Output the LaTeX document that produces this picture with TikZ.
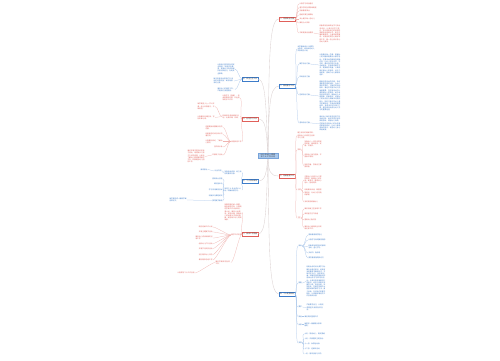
\documentclass[tikz,border=0pt]{standalone}
\usepackage{fontspec}
\newfontfamily\cjk{Noto Sans CJK SC}
\XeTeXlinebreaklocale "zh"
\XeTeXlinebreakskip=0pt plus 0.5pt
\usetikzlibrary{calc}

\definecolor{tred}{HTML}{E0605A}
\definecolor{tblue}{HTML}{3D7CC9}
\definecolor{lred}{HTML}{F0B4B0}
\definecolor{lblue}{HTML}{A8C6EA}
\definecolor{lgray}{HTML}{DCD2D2}
\definecolor{cfill}{HTML}{A9C8EC}

\tikzset{
  txt/.style={font={\cjk\fontsize{1.7}{2.2}\selectfont},inner sep=0.3pt},
  rtxt/.style={txt,text=tred},
  btxt/.style={txt,text=tblue},
  rpar/.style={rtxt,text width=17pt,align=left},
  bpar/.style={btxt,text width=17pt,align=left},
  topic/.style={font={\cjk\fontsize{1.8}{2.3}\selectfont},text=black!75,fill=white,line width=0.3pt,inner sep=0.6pt,minimum width=15pt,minimum height=3.4pt},
  spine/.style={draw=lgray,line width=0.35pt},
  redR/.style={draw=lred,line width=0.25pt,to path={.. controls +(3,0) and +(-3,0) .. (\tikztotarget)}},
  blueR/.style={draw=lblue,line width=0.25pt,to path={.. controls +(3,0) and +(-3,0) .. (\tikztotarget)}},
  redL/.style={draw=lred,line width=0.25pt,to path={.. controls +(-3,0) and +(3,0) .. (\tikztotarget)}},
  blueL/.style={draw=lblue,line width=0.25pt,to path={.. controls +(-3,0) and +(3,0) .. (\tikztotarget)}},
}

\begin{document}
\begin{tikzpicture}[x=1pt,y=-1pt]
\useasboundingbox[fill=white] (0,0) rectangle (500,360);

% centre
\node[draw=tblue!70,fill=cfill,font={\cjk\fontsize{1.8}{2.3}\selectfont},text=black!80,text width=19pt,align=center,inner sep=0.6pt] (c) at (268,156) {2023年幼儿园教师个人工作计划};

% right topics
\node[topic,draw=tred,anchor=west] (ra) at (279,19) {一、思想政治方面};
\node[topic,draw=tblue,anchor=west] (rb) at (279,86) {二、教育教学工作};
\node[topic,draw=tred,anchor=west] (rc) at (279,176) {三、班级管理工作};
\node[topic,draw=tblue,anchor=west] (rd) at (279,294) {四、个人发展规划};

% left topics
\node[topic,draw=tblue,anchor=east] (la) at (258,79) {五、安全卫生工作};
\node[topic,draw=tred,anchor=east] (lb) at (258,119) {六、业务学习工作};
\node[topic,draw=tblue,anchor=east] (lc) at (258,181) {七、个人成长目标};
\node[topic,draw=tred,anchor=east] (ld) at (258,234) {八、具体工作措施};

\draw[spine] (c.north) .. controls (269,60) and (269,19) .. (ra.west);
\draw[spine] (c.north) .. controls (269,110) and (269,86) .. (rb.west);
\draw[spine] (c.south) .. controls (269,170) and (269,176) .. (rc.west);
\draw[spine] (c.south) .. controls (269,250) and (269,294) .. (rd.west);
\draw[spine] (c.north) .. controls (266,110) and (266,79) .. (la.east);
\draw[spine] (c.north) .. controls (266,130) and (266,119) .. (lb.east);
\draw[spine] (c.south) .. controls (266,172) and (266,181) .. (lc.east);
\draw[spine] (c.south) .. controls (266,210) and (266,234) .. (ld.east);

% ra
\node[rtxt,anchor=west] (ra1) at (299,4) {认真学习政治理论};
\node[rtxt,anchor=west] (ra2) at (299,7.5) {遵守学校各项规章制度};
\node[rtxt,anchor=west] (ra3) at (299,11) {热爱教育事业};
\node[rtxt,anchor=west] (ra4) at (299,15) {团结同事互相帮助};
\node[rtxt,anchor=west] (ra5) at (299,19) {关心爱护每一名幼儿};
\node[rtxt,anchor=west] (ra6) at (299,23) {做到为人师表};
\node[rtxt,anchor=west] (ra7) at (299,33) {不断提高自身素质};
\node[rpar,text width=21pt,anchor=west] (ra8) at (319,34) {积极参加各种政治学习和业务培训，认真记好学习笔记，努力提高自己的思想觉悟和职业道德水平，树立正确的教育观、儿童观和质量观，以高度的责任心做好本职工作，做一名让家长放心的幼儿教师。};
\draw[redR] (ra.east) to (ra1.west);
\draw[redR] (ra.east) to (ra2.west);
\draw[redR] (ra.east) to (ra3.west);
\draw[redR] (ra.east) to (ra4.west);
\draw[redR] (ra.east) to (ra5.west);
\draw[redR] (ra.east) to (ra6.west);
\draw[redR] (ra.east) to (ra7.west);
\draw[redR] (ra7.east) to (ra8.west);

% rb
\node[bpar,anchor=west] (rb1) at (297,49) {本学期继续以《纲要》为指导，结合本班幼儿实际制定计划。};
\node[btxt,anchor=west] (rb2) at (299,64) {教学活动方面};
\node[bpar,text width=21pt,anchor=west] (rb2a) at (319,65) {认真备好每一节课，根据幼儿的兴趣和需要设计教学活动，注重活动的趣味性和操作性，让幼儿在玩中学、学中玩。课后及时进行反思，总结经验，不断改进教学方法，提高教学质量。认真观察记录幼儿的表现，关注个体差异，使每个幼儿都有所进步。};
\node[btxt,anchor=west] (rb3) at (299,77) {环境创设方面};
\node[btxt,anchor=west] (rb4) at (299,95) {区域活动方面};
\node[bpar,text width=21pt,anchor=west] (rb4a) at (319,96) {根据主题活动的开展，及时更新各区域的材料，为幼儿提供丰富的、可操作的活动材料，满足不同层次幼儿的发展需要。在区域活动中认真观察幼儿的表现，给予适时适当的指导，鼓励幼儿大胆探索、积极尝试，培养幼儿的动手能力和解决问题的能力。同时注意引导幼儿遵守区域规则，学会收拾整理材料，养成良好的活动习惯，使区域活动成为幼儿学习的重要途径。};
\node[btxt,anchor=west] (rb5) at (299,123) {游戏活动方面};
\node[bpar,text width=21pt,anchor=west] (rb5a) at (319,123.5) {保证幼儿每天有充足的户外活动时间，组织丰富多彩的体育游戏，增强幼儿体质。在游戏中培养幼儿的合作意识和规则意识，让幼儿体验游戏的快乐，促进幼儿身心和谐发展。};
\draw[blueR] (rb.east) to (rb1.west);
\draw[blueR] (rb.east) to (rb2.west);
\draw[blueR] (rb.east) to (rb3.west);
\draw[blueR] (rb.east) to (rb4.west);
\draw[blueR] (rb.east) to (rb5.west);
\draw[blueR] (rb2.east) to (rb2a.west);
\draw[blueR] (rb4.east) to (rb4a.west);
\draw[blueR] (rb5.east) to (rb5a.west);

% rc
\node[rpar,anchor=west] (rc1) at (297,135.5) {建立良好的班级常规，培养幼儿良好的生活和学习习惯。};
\node[rtxt,anchor=west] (rc2) at (297,150) {常规};
\node[rpar,anchor=west] (rc2a) at (304,144) {加强幼儿一日生活常规的培养，做到有序、安静、不拥挤。};
\node[rpar,anchor=west] (rc2b) at (304,155.5) {培养幼儿独立进餐，不挑食不剩饭。};
\node[rpar,anchor=west] (rc2c) at (304,165.5) {按时午睡，学会自己穿脱衣服。};
\node[rtxt,anchor=west] (rc3) at (297,190) {习惯};
\node[rpar,anchor=west] (rc3a) at (304,180) {注重幼儿良好行为习惯的养成，教育幼儿讲礼貌、爱清洁，懂得关心他人、团结同伴。};
\node[rpar,anchor=west] (rc3b) at (304,192.5) {利用晨间谈话、离园前等时间，对幼儿进行随机教育。};
\node[rtxt,anchor=west] (rc3c) at (304,202) {及时表扬鼓励幼儿};
\node[rtxt,anchor=west] (rc4) at (297,218) {卫生};
\node[rtxt,anchor=west] (rc4a) at (304,209) {做好班级卫生消毒工作};
\node[rtxt,anchor=west] (rc4b) at (304,214) {保持室内空气流通};
\node[rtxt,anchor=west] (rc4c) at (304,220) {督促幼儿勤洗手};
\node[rpar,anchor=west] (rc4d) at (304,227.5) {做好幼儿晨检和全日观察记录工作。};
\draw[redR] (rc.east) to (rc1.west);
\draw[redR] (rc.east) to (rc2.west);
\draw[redR] (rc.east) to (rc3.west);
\draw[redR] (rc.east) to (rc4.west);
\draw[redR] (rc2.east) to (rc2a.west);
\draw[redR] (rc2.east) to (rc2b.west);
\draw[redR] (rc2.east) to (rc2c.west);
\draw[redR] (rc3.east) to (rc3a.west);
\draw[redR] (rc3.east) to (rc3b.west);
\draw[redR] (rc3.east) to (rc3c.west);
\draw[redR] (rc4.east) to (rc4a.west);
\draw[redR] (rc4.east) to (rc4b.west);
\draw[redR] (rc4.east) to (rc4c.west);
\draw[redR] (rc4.east) to (rc4d.west);

% rd
\node[btxt,anchor=west] (rd1) at (298,246) {目标};
\node[btxt,anchor=west] (rd1a) at (308,235) {提高教育教学能力};
\node[btxt,anchor=west] (rd1b) at (308,240) {认真学习新的教育理念};
\node[bpar,anchor=west] (rd1c) at (308,246.5) {积极参加园内外的教研活动，虚心学习。};
\node[btxt,anchor=west] (rd1d) at (308,253) {多读书，勤思考};
\node[btxt,anchor=west] (rd1e) at (308,258) {撰写教育随笔和论文};
\node[btxt,anchor=west] (rd2) at (298,283) {措施};
\node[bpar,text width=19pt,anchor=west] (rd2a) at (306,281.5) {利用业余时间认真学习幼教专业理论知识，阅读有关的教育书籍和杂志，不断充实自己，拓宽知识面。积极参加园里组织的各种业务学习和培训活动，认真听取专家和同行的意见。经常与同事交流教学心得，取长补短，共同进步。在教学实践中大胆尝试新的教学方法，勇于创新，形成自己的教学特色。认真做好每月的工作总结和反思。};
\node[btxt,anchor=west] (rd3) at (298,307) {要求};
\node[bpar,anchor=west] (rd3a) at (306,307.5) {严格要求自己，认真完成园里交给的各项任务。};
\node[btxt,anchor=west] (rd4) at (298,316.5) {其他};
\node[btxt,anchor=west] (rd4a) at (304,316.5) {做好资料整理工作};
\node[btxt,anchor=west] (rd5) at (298,324.5) {反思};
\node[bpar,anchor=west] (rd5a) at (304,324.5) {每周写一篇教育反思和随笔。};
\node[btxt,anchor=west] (rd6) at (298,343) {安排};
\node[btxt,anchor=west] (rd6a) at (304,334) {九月：熟悉幼儿，稳定情绪};
\node[btxt,anchor=west] (rd6b) at (304,339) {十月：开展国庆主题活动};
\node[btxt,anchor=west] (rd6c) at (304,344) {十一月：秋季运动会};
\node[btxt,anchor=west] (rd6d) at (304,349) {十二月：迎新年活动};
\node[btxt,anchor=west] (rd6e) at (304,354) {一月：期末总结与评价};
\draw[blueR] (rd.east) to (rd1.west);
\draw[blueR] (rd.east) to (rd2.west);
\draw[blueR] (rd.east) to (rd3.west);
\draw[blueR] (rd.east) to (rd4.west);
\draw[blueR] (rd.east) to (rd5.west);
\draw[blueR] (rd.east) to (rd6.west);
\draw[blueR] (rd1.east) to (rd1a.west);
\draw[blueR] (rd1.east) to (rd1b.west);
\draw[blueR] (rd1.east) to (rd1c.west);
\draw[blueR] (rd1.east) to (rd1d.west);
\draw[blueR] (rd1.east) to (rd1e.west);
\draw[blueR] (rd2.east) to (rd2a.west);
\draw[blueR] (rd3.east) to (rd3a.west);
\draw[blueR] (rd4.east) to (rd4a.west);
\draw[blueR] (rd5.east) to (rd5a.west);
\draw[blueR] (rd6.east) to (rd6a.west);
\draw[blueR] (rd6.east) to (rd6b.west);
\draw[blueR] (rd6.east) to (rd6c.west);
\draw[blueR] (rd6.east) to (rd6d.west);
\draw[blueR] (rd6.east) to (rd6e.west);

% la
\node[bpar,anchor=east] (la1) at (235,69) {认真执行园内的各项安全制度，加强安全教育，提高幼儿的自我保护意识和能力，杜绝安全事故。};
\node[bpar,text width=20pt,anchor=east] (la2) at (234,81) {每天检查活动室和户外场地的设施设备，发现隐患及时上报。};
\node[bpar,anchor=east] (la3) at (235,89.5) {做好幼儿的接送工作，严格执行接送制度。};
\draw[blueL] (la.west) to (la1.east);
\draw[blueL] (la.west) to (la2.east);
\draw[blueL] (la.west) to (la3.east);

% lb
\node[rpar,anchor=east] (lb1) at (240,98) {认真学习《指南》，领会其精神实质，并运用到实际工作中。};
\node[rpar,anchor=east] (lb2) at (240,116.5) {积极参加各种教研活动，认真听课、评课。};
\node[rpar,anchor=east] (lb2a) at (215,106.5) {每学期至少上一节公开课，虚心听取意见，不断改进。};
\node[rpar,anchor=east] (lb2b) at (215,117.5) {认真做好听课记录，写好听课心得。};
\node[rtxt,anchor=east] (lb3) at (242,141.5) {家园共育工作};
\node[rpar,anchor=east] (lb3a) at (223,127.5) {定期更新家园联系栏的内容。};
\node[rpar,anchor=east] (lb3b) at (223,134.5) {利用接送时间与家长沟通交流。};
\node[rpar,anchor=east] (lb3c) at (223,141.5) {认真做好家访，了解幼儿情况。};
\node[rtxt,anchor=east] (lb3d) at (223,147) {召开家长会};
\node[rtxt,anchor=east] (lb3e) at (223,155) {开展亲子活动};
\node[rpar,anchor=east] (lb3f) at (205,156.5) {通过开展丰富多彩的亲子活动，增进家长与孩子之间的感情，让家长了解幼儿园的教育教学工作，积极配合幼儿园的工作。};
\draw[redL] (lb.west) to (lb1.east);
\draw[redL] (lb.west) to (lb2.east);
\draw[redL] (lb.west) to (lb3.east);
\draw[redL] (lb2.west) to (lb2a.east);
\draw[redL] (lb2.west) to (lb2b.east);
\draw[redL] (lb3.west) to (lb3a.east);
\draw[redL] (lb3.west) to (lb3b.east);
\draw[redL] (lb3.west) to (lb3c.east);
\draw[redL] (lb3.west) to (lb3d.east);
\draw[redL] (lb3.west) to (lb3e.east);
\draw[redL] (lb3e.west) to (lb3f.east);

% lc
\node[bpar,anchor=east] (lc1) at (242,172.5) {加强自身修养，树立良好的教师形象。};
\node[btxt,anchor=east] (lc1a) at (222,171) {以身作则};
\node[btxt,anchor=east] (lc1b) at (208,169.5) {爱岗敬业};
\node[bpar,anchor=east] (lc2) at (242,190) {制定个人专业成长计划，明确发展方向。};
\node[btxt,anchor=east] (lc2a) at (223,179) {提高专业技能};
\node[btxt,anchor=east] (lc2b) at (223,184) {练好基本功};
\node[btxt,anchor=east] (lc2c) at (223,190) {学习现代教育技术};
\node[btxt,anchor=east] (lc2d) at (223,195.5) {积极参与课题研究};
\node[btxt,anchor=east] (lc2e) at (223,200.5) {撰写教学案例};
\node[bpar,text width=17pt,anchor=east] (lc2f) at (187,200) {每学期完成一篇教学案例或论文。};
\draw[blueL] (lc.west) to (lc1.east);
\draw[blueL] (lc.west) to (lc2.east);
\draw[blueL] (lc1.west) to (lc1a.east);
\draw[blueL] (lc1a.west) to (lc1b.east);
\draw[blueL] (lc2.west) to (lc2a.east);
\draw[blueL] (lc2.west) to (lc2b.east);
\draw[blueL] (lc2.west) to (lc2c.east);
\draw[blueL] (lc2.west) to (lc2d.east);
\draw[blueL] (lc2.west) to (lc2e.east);
\draw[blueL] (lc2e.west) to (lc2f.east);

% ld
\node[rpar,anchor=east] (ld1) at (242,212.5) {按照园里的统一部署，结合本班实际，认真制定学期工作计划和月、周计划，做到计划周密、安排合理。根据幼儿的发展水平因材施教，促进每个幼儿得到发展。};
\node[rtxt,anchor=east] (ld2) at (242,235) {教学工作安排};
\node[rtxt,anchor=east] (ld2a) at (213,227) {制定班级工作计划};
\node[rtxt,anchor=east] (ld2b) at (213,232) {开展主题教学活动};
\node[rpar,anchor=east] (ld2c) at (213,238) {做好幼儿成长档案的记录工作};
\node[rtxt,anchor=east] (ld2d) at (213,243.5) {组织幼儿户外活动};
\node[rtxt,anchor=east] (ld2e) at (213,248.5) {开展节日庆祝活动};
\node[rtxt,anchor=east] (ld2f) at (213,254.5) {进行期中幼儿评价};
\node[rtxt,anchor=east] (ld2g) at (213,260) {做好期末总结工作};
\node[rpar,text width=15pt,anchor=east] (ld3) at (231,262.5) {做好学期末的各项工作。};
\node[rtxt,anchor=east] (ld3a) at (195,273) {认真撰写个人工作总结};
\draw[redL] (ld.west) to (ld1.east);
\draw[redL] (ld.west) to (ld2.east);
\draw[redL] (ld.west) to (ld3.east);
\draw[redL] (ld2.west) to (ld2a.east);
\draw[redL] (ld2.west) to (ld2b.east);
\draw[redL] (ld2.west) to (ld2c.east);
\draw[redL] (ld2.west) to (ld2d.east);
\draw[redL] (ld2.west) to (ld2e.east);
\draw[redL] (ld2.west) to (ld2f.east);
\draw[redL] (ld2.west) to (ld2g.east);
\draw[redL] (ld3.west) to (ld3a.east);

\end{tikzpicture}
\end{document}
